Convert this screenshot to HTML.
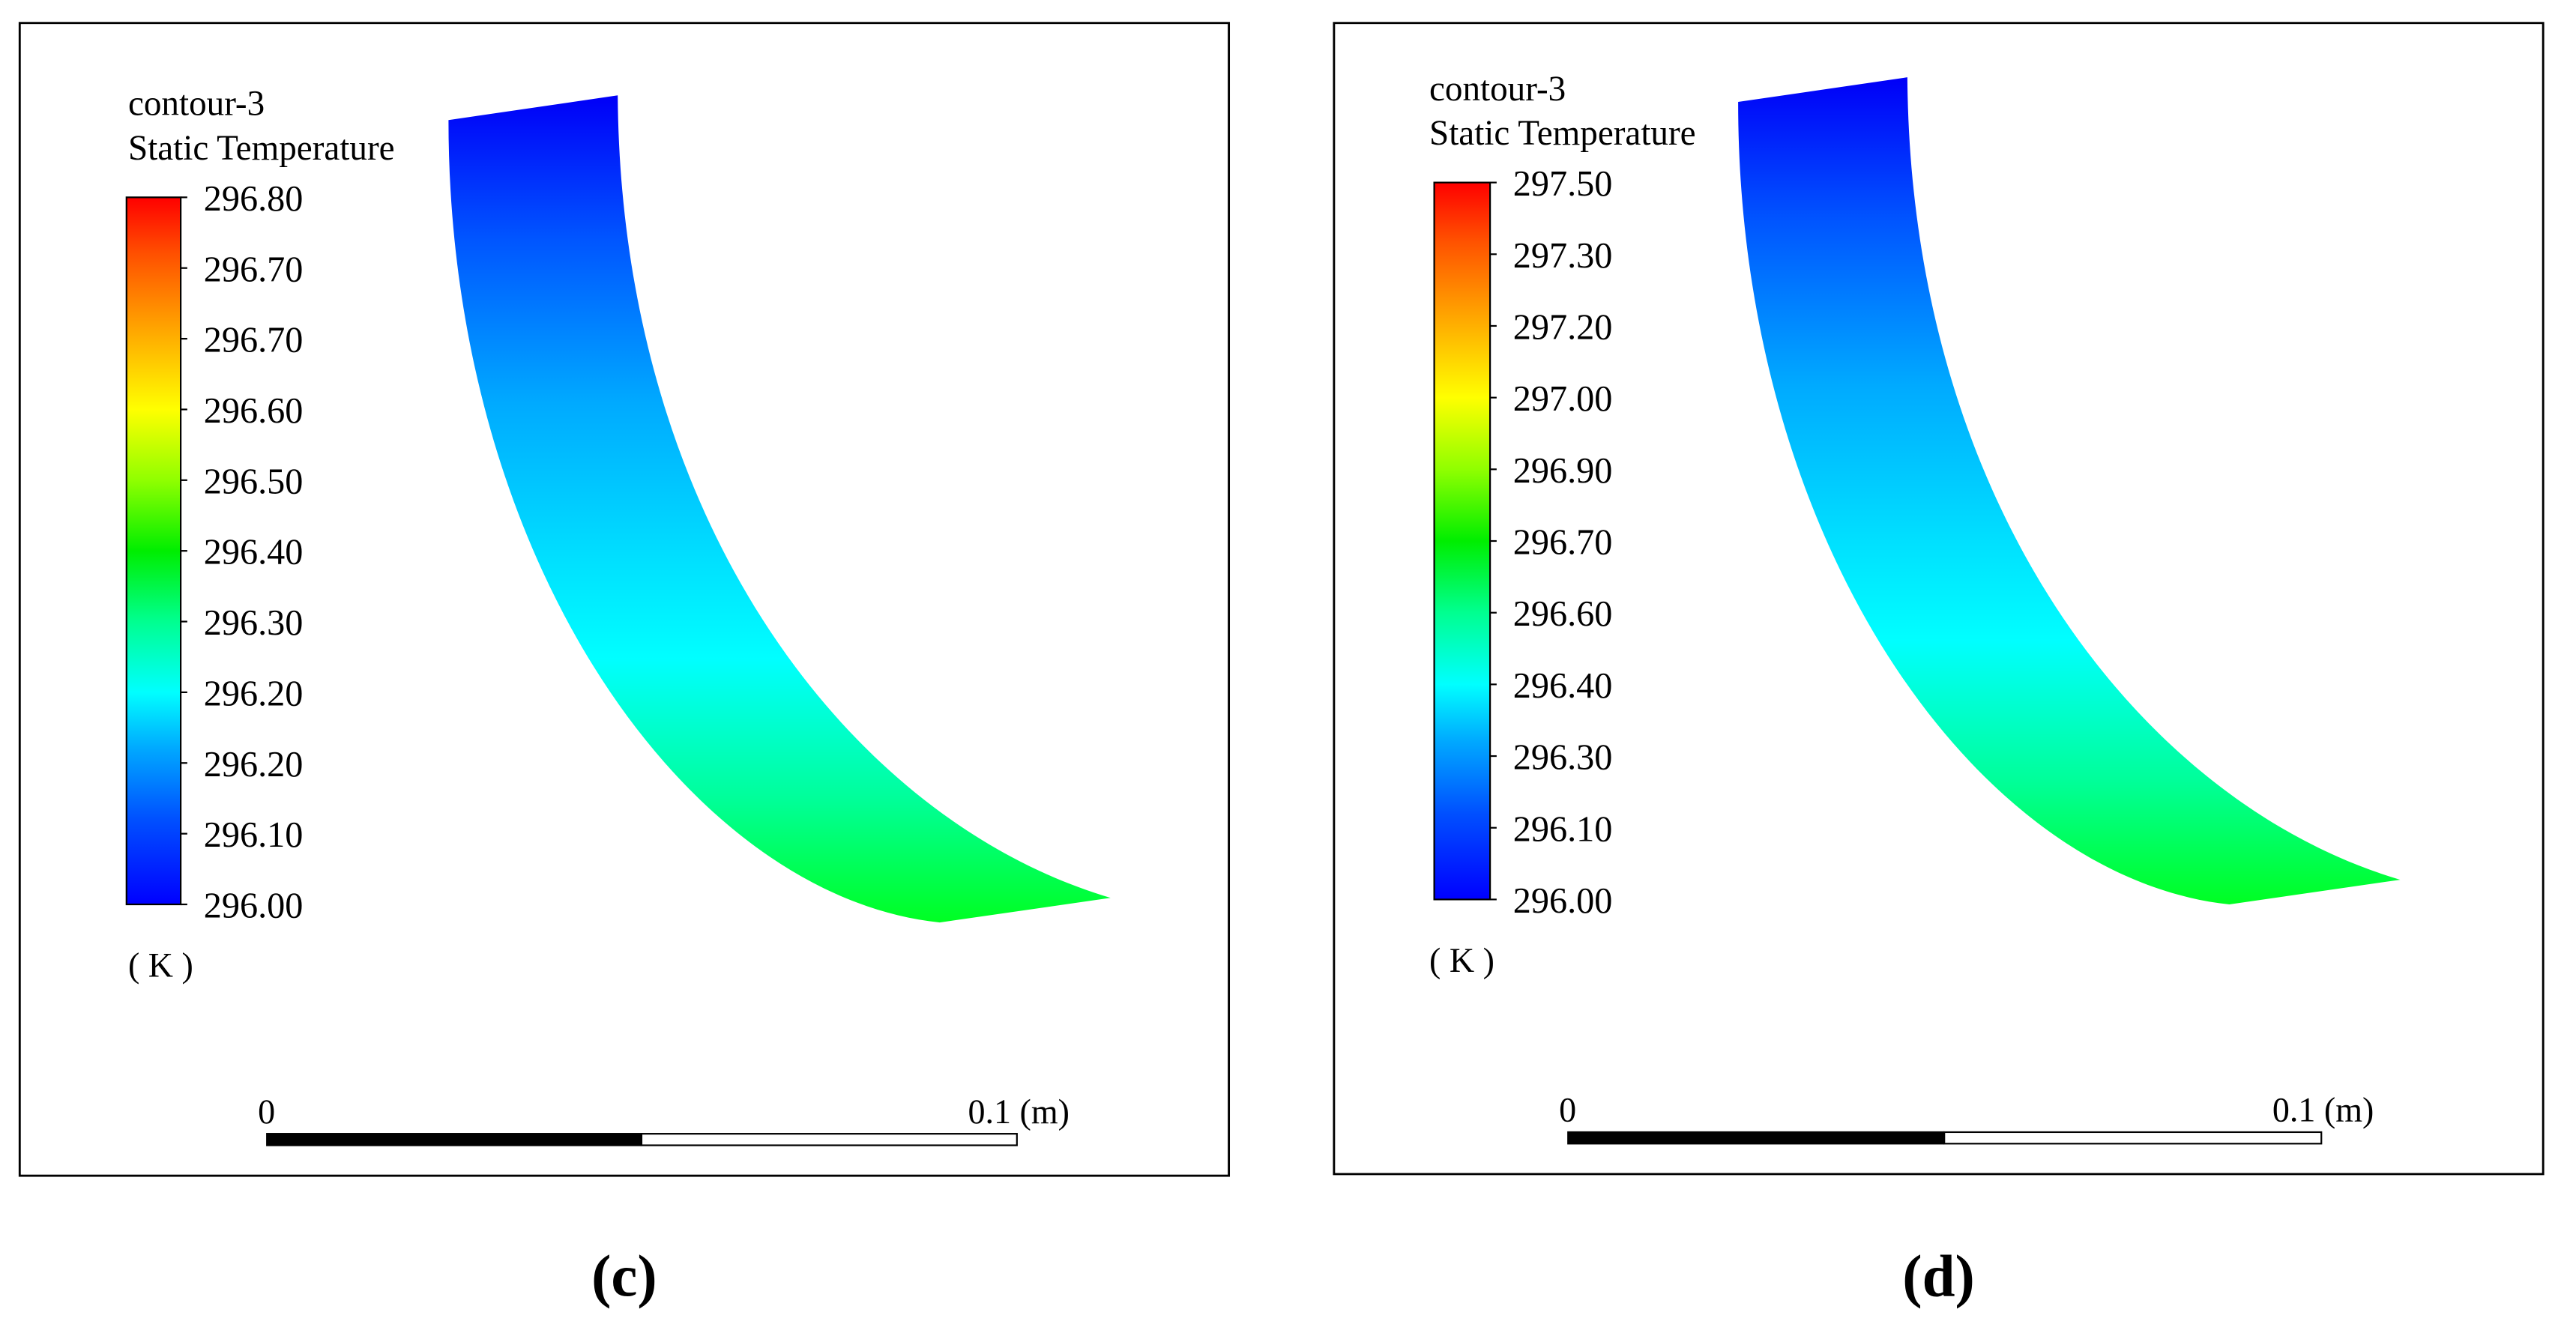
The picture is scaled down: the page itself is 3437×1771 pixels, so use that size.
<!DOCTYPE html>
<html><head><meta charset="utf-8"><style>
html,body{margin:0;padding:0;background:#fff;}
svg{display:block;}
text{font-family:"Liberation Serif",serif;fill:#000;}
</style></head><body>
<svg id="fig" width="3437" height="1771" viewBox="0 0 1568 807" preserveAspectRatio="none">
<defs>
<linearGradient id="cbar" x1="0" y1="1" x2="0" y2="0">
<stop offset="0" stop-color="#0000ff"/><stop offset="0.12" stop-color="#0050ff"/><stop offset="0.22" stop-color="#00a8ff"/><stop offset="0.3" stop-color="#00ffff"/><stop offset="0.4" stop-color="#00ff90"/><stop offset="0.5" stop-color="#00ee00"/><stop offset="0.6" stop-color="#90ff00"/><stop offset="0.7" stop-color="#ffff00"/><stop offset="0.82" stop-color="#ffa000"/><stop offset="0.92" stop-color="#ff5000"/><stop offset="1" stop-color="#ff0000"/>
</linearGradient>
<linearGradient id="blade" gradientUnits="userSpaceOnUse" x1="0" y1="60" x2="0" y2="561">
<stop offset="0" stop-color="#0000f8"/><stop offset="0.17" stop-color="#0055ff"/><stop offset="0.37" stop-color="#00aaff"/><stop offset="0.56" stop-color="#00e0ff"/><stop offset="0.68" stop-color="#00ffff"/><stop offset="0.85" stop-color="#00ff99"/><stop offset="1" stop-color="#00ff22"/>
</linearGradient>
</defs>
<g id="panels"></g>
<text x="380" y="788" text-anchor="middle" font-size="36" font-weight="bold">(c)</text>
<text x="1180" y="788" text-anchor="middle" font-size="36" font-weight="bold">(d)</text>
</svg>
<script>
const labelsC = ["296.80","296.70","296.70","296.60","296.50","296.40","296.30","296.20","296.20","296.10","296.00"];
const labelsD = ["297.50","297.30","297.20","297.00","296.90","296.70","296.60","296.40","296.30","296.10","296.00"];
const NS="http://www.w3.org/2000/svg";
const root=document.getElementById('panels');
function mk(tag,attrs,parent){const e=document.createElementNS(NS,tag);for(const k in attrs)e.setAttribute(k,attrs[k]);parent.appendChild(e);return e;}
const bladePath="M273,73 C273,342 420,545 572,561 L676,546 C520,500 378,320 376,58 Z";
function panel(dx,dy,tx0,frame,labels,cb,bar,bladeOff){
  const g=mk('g',{transform:`translate(${dx},0)`},root);
  
  
  const fr=mk('rect',{x:frame[0],y:frame[1],width:frame[2],height:frame[3],fill:'none',stroke:'#000','stroke-width':1.3},g);
  
  const t1=mk('text',{x:tx0,y:70+dy,'font-size':21.5},g);t1.textContent='contour-3';
  
  const t2=mk('text',{x:tx0,y:97+dy,'font-size':21.5},g);t2.textContent='Static Temperature';
  
  const r=mk('rect',{x:cb[0],y:cb[1],width:cb[2],height:cb[3],fill:'url(#cbar)',stroke:'#000','stroke-width':1},g);
  
  const n=labels.length;
  labels.forEach((s,i)=>{const y=cb[1]+cb[3]*i/(n-1);
    const tk=mk('line',{x1:cb[0]+cb[2],x2:cb[0]+cb[2]+4,y1:y,y2:y,stroke:'#000','stroke-width':1},g);
    
    const tx=mk('text',{x:cb[0]+cb[2]+14,y:y+8,'font-size':22},g);tx.textContent=s;
    });
  const k=mk('text',{x:tx0,y:cb[1]+cb[3]+44,'font-size':21},g);k.textContent='( K )';
  
  const blk=mk('rect',{x:bar[0],y:bar[1],width:(bar[2]-bar[0])/2,height:8,fill:'#000'},g);
  
  const wht=mk('rect',{x:bar[0]+(bar[2]-bar[0])/2,y:bar[1]+0.5,width:(bar[2]-bar[0])/2,height:7,fill:'#fff',stroke:'#000','stroke-width':1},g);
  
  const z=mk('text',{x:bar[0]-5,y:bar[1]-6,'font-size':21},g);z.textContent='0';
  
  const m=mk('text',{x:bar[2]+32,y:bar[1]-6,'font-size':21,'text-anchor':'end'},g);m.textContent='0.1 (m)';
  
  const bg=mk('g',{transform:`translate(${bladeOff[0]},${bladeOff[1]})`},g);
  const p=mk('path',{d:bladePath,fill:'url(#blade)'},bg);
  
}
panel(0,0,78,[12,14,736,701],labelsC,[77,120,33,430],[162,689,619],[0,0]);
panel(800,-9,70,[12,14,736,700],labelsD,[73,111,34,436],[154,688,613],[-15,-11]);
</script>
</body></html>
